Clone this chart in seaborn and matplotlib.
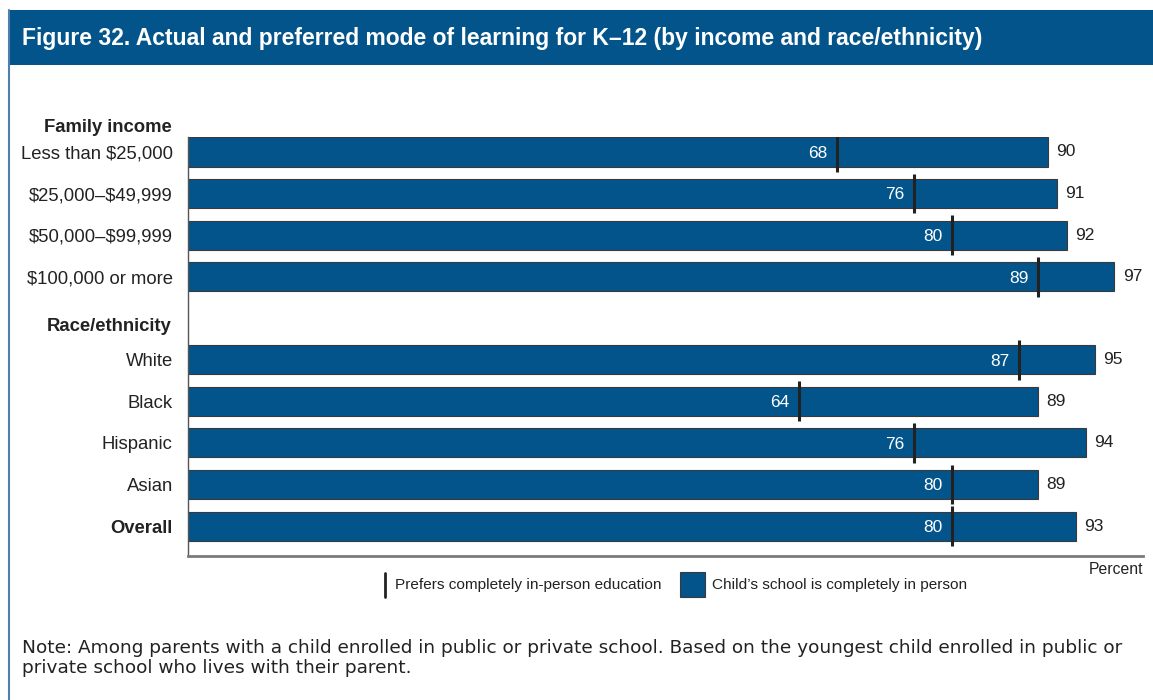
import matplotlib
matplotlib.use("Agg")
import matplotlib.pyplot as plt
from matplotlib.patches import Rectangle
from matplotlib.lines import Line2D
import pandas as pd
import seaborn as sns

# data
rows = ["Family income", "Less than $25,000", "$25,000\u2013$49,999", "$50,000\u2013$99,999",
        "$100,000 or more", "Race/ethnicity", "White", "Black", "Hispanic", "Asian", "Overall"]
groups = ["Less than $25,000", "$25,000\u2013$49,999", "$50,000\u2013$99,999", "$100,000 or more",
          "White", "Black", "Hispanic", "Asian", "Overall"]
actual = [90, 91, 92, 97, 95, 89, 94, 89, 93]
preferred = [68, 76, 80, 89, 87, 64, 76, 80, 80]

blue = "#03548B"
txt = "#222222"
sns.set_style("white")
plt.rcParams["font.family"] = ["Liberation Sans", "DejaVu Sans"]

df = pd.DataFrame({"group": groups, "actual": actual, "preferred": preferred})

W, H = 1153, 700
fig = plt.figure(figsize=(W / 100, H / 100), dpi=100)
ax = fig.add_axes([188 / W, 1 - 556 / H, (1143 - 188) / W, (556 - 137) / H])

sns.barplot(data=df, x="actual", y="group", order=rows, orient="h", color=blue,
            saturation=1, width=0.7, edgecolor="#3a3a3a", linewidth=0.8, ax=ax)

pos = [rows.index(g) for g in groups]
ax.vlines(preferred, [p - 0.48 for p in pos], [p + 0.48 for p in pos], color=txt, lw=2.2, zorder=5)

for p, a, pr in zip(pos, actual, preferred):
    ax.annotate(str(pr), (pr, p), xytext=(-7, -1), textcoords="offset points",
                ha="right", va="center", color="white", fontsize=12.5)
    ax.annotate(str(a), (a, p), xytext=(6, 0), textcoords="offset points",
                ha="left", va="center", color=txt, fontsize=12.5)

ax.set_xlim(0, 100)
ax.set_ylim(10.72, 0.64)
ax.set_xlabel("")
ax.set_ylabel("")
ax.set_xticks([])
ax.set_yticks(pos)
ax.set_yticklabels([g.replace("$", r"\$") for g in groups], fontsize=13.3, color=txt)
ax.get_yticklabels()[-1].set_fontweight("bold")
ax.tick_params(axis="y", length=0, pad=11)
for s in ["top", "right"]:
    ax.spines[s].set_visible(False)
ax.spines["left"].set_color("#555555")
ax.spines["left"].set_linewidth(1)
ax.spines["bottom"].set_color("#7a7a7a")
ax.spines["bottom"].set_linewidth(2)

# group headers
ax.text(-0.017, 0.4, "Family income", transform=ax.get_yaxis_transform(), ha="right", va="center",
        fontsize=13.3, fontweight="bold", color=txt, clip_on=False)
ax.text(-0.017, 5.2, "Race/ethnicity", transform=ax.get_yaxis_transform(), ha="right", va="center",
        fontsize=13.3, fontweight="bold", color=txt, clip_on=False)

fig.text(1143 / W, 1 - 570 / H, "Percent", ha="right", va="center", fontsize=11.3, color=txt)

# legend
fig.add_artist(Line2D([385 / W, 385 / W], [1 - 573 / H, 1 - 597 / H], color=txt, lw=2))
fig.text(395 / W, 1 - 585 / H, "Prefers completely in-person education", ha="left", va="center",
         fontsize=11.05, color=txt)
fig.add_artist(Rectangle((680 / W, 1 - 597 / H), 25 / W, 25 / H, facecolor=blue,
                         edgecolor="#3a3a3a", lw=0.8))
fig.text(712 / W, 1 - 585 / H, "Child\u2019s school is completely in person", ha="left", va="center",
         fontsize=11.05, color=txt)

# frame and title band
fig.add_artist(Line2D([8.5 / W, 8.5 / W], [0, 1 - 10 / H], color="#4f7fab", lw=1.5))
fig.add_artist(Rectangle((8 / W, 1 - 65 / H), 1 - 8 / W, 55 / H, facecolor=blue, edgecolor="none"))
fig.text(22 / W, 1 - 38 / H, "Figure 32. Actual and preferred mode of learning for K\u201312 (by income and race/ethnicity)",
         ha="left", va="center", fontsize=16.5, fontweight="bold", color="white")

fig.text(22 / W, 1 - 639 / H,
         "Note: Among parents with a child enrolled in public or private school. Based on the youngest child enrolled in public or\n"
         "private school who lives with their parent.",
         ha="left", va="top", fontsize=13.3, color=txt, linespacing=1.15,
         family=["DejaVu Sans"])

fig.savefig("out.png", dpi=100)
